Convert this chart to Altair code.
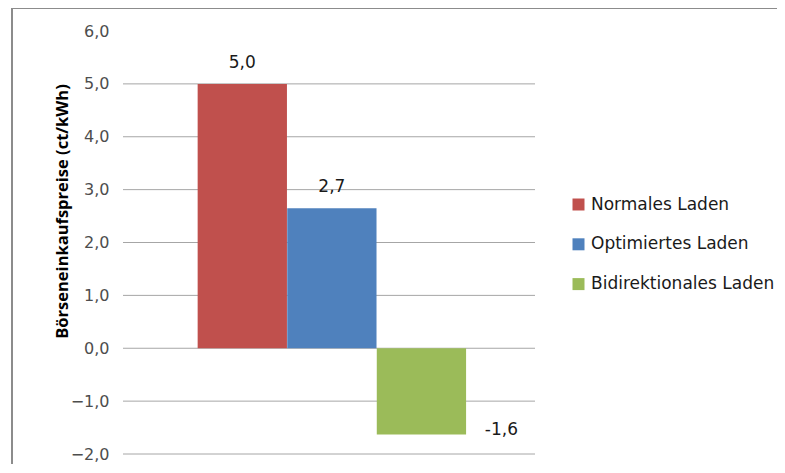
import altair as alt
import pandas as pd

series = ["Normales Laden", "Optimiertes Laden", "Bidirektionales Laden"]
values = [5.0, 2.65, -1.63]
labels = ["5,0", "2,7", "-1,6"]
colors = ["#C0504D", "#4F81BD", "#9BBB59"]
grid_values = [-2, -1, 0, 1, 2, 3, 4, 5]
y_ticks = [-2, -1, 0, 1, 2, 3, 4, 5, 6]

df = pd.DataFrame({"series": series, "value": values, "label": labels})
grid_df = pd.DataFrame({"g": grid_values})

W, H = 412, 423
yscale = alt.Scale(domain=[-2, 6], nice=False, zero=False)
xscale = alt.Scale(domain=series, paddingInner=0, paddingOuter=0.8, align=0.52)

dummy = pd.DataFrame({"a": [0]})
frame_top = alt.Chart(dummy).mark_rule(stroke="#8C8C8C", strokeWidth=2).encode(
    x=alt.value(-112), x2=alt.value(700), y=alt.value(-23)
)
frame_left = alt.Chart(dummy).mark_rule(stroke="#8C8C8C", strokeWidth=2).encode(
    x=alt.value(-111), y=alt.value(-24), y2=alt.value(470)
)

grid = alt.Chart(grid_df).mark_rule(color="#A6A6A6", strokeWidth=1).encode(
    y=alt.Y("g:Q", scale=yscale,
            axis=alt.Axis(values=y_ticks, grid=False, domain=False, ticks=False,
                          labelExpr="replace(format(datum.value, '.1f'), '.', ',')",
                          labelFont="DejaVu Sans", labelFontSize=16, labelColor="#4D4D4D",
                          labelPadding=14,
                          title="Börseneinkaufspreise (ct/kWh)",
                          titleFont="Open Sans", titleFontSize=16.5, titleFontWeight="bold",
                          titleColor="#000000", titleX=-61, titleY=180, titleAngle=-90,
                          titleAlign="center", titleBaseline="middle")),
)

bars = alt.Chart(df).mark_bar(size=89.3).encode(
    x=alt.X("series:N", scale=xscale, sort=series, axis=None),
    y=alt.Y("value:Q", scale=yscale),
    y2=alt.datum(0),
    color=alt.Color("series:N", sort=series,
                    scale=alt.Scale(domain=series, range=colors),
                    legend=alt.Legend(title=None, orient="none", legendX=447, legendY=165,
                                      symbolType="square", symbolSize=144,
                                      symbolStrokeWidth=0, symbolOpacity=1,
                                      labelFont="DejaVu Sans", labelFontSize=17,
                                      labelColor="#1A1A1A", rowPadding=21.8,
                                      labelOffset=4, labelLimit=400)),
)

pos_text = alt.Chart(df).transform_filter("datum.value >= 0").mark_text(
    font="DejaVu Sans", fontSize=17, color="#1A1A1A", dy=-21, baseline="middle"
).encode(
    x=alt.X("series:N", scale=xscale, sort=series),
    y=alt.Y("value:Q", scale=yscale),
    text="label:N",
)

neg_text = alt.Chart(df).transform_filter("datum.value < 0").mark_text(
    font="DejaVu Sans", fontSize=17, color="#1A1A1A", dx=80, dy=-4, baseline="middle"
).encode(
    x=alt.X("series:N", scale=xscale, sort=series),
    y=alt.Y("value:Q", scale=yscale),
    text="label:N",
)

chart = alt.layer(frame_top, frame_left, grid, bars, pos_text, neg_text).properties(
    width=W, height=H,
    background="#FFFFFF",
    autosize=alt.AutoSizeParams(type="none"),
    padding={"left": 115, "top": 23, "right": 242, "bottom": 10},
).configure_view(stroke="transparent", strokeWidth=0)

chart.save("out.html", embed_options={"renderer": "svg", "actions": False})
